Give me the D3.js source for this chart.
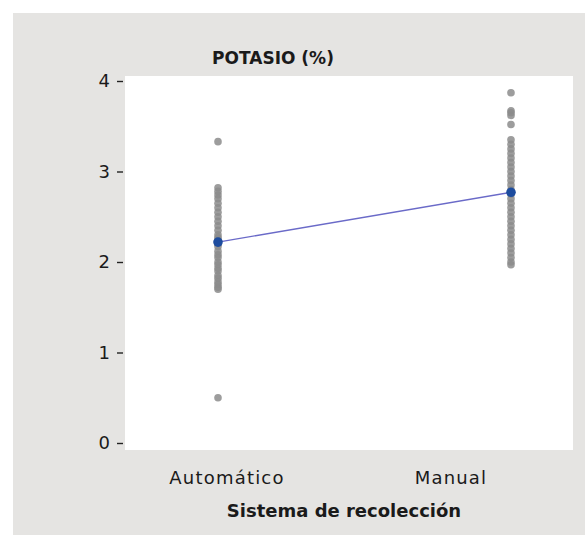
<!DOCTYPE html>
<meta charset="utf-8">
<style>
  body { margin: 0; background: #fff; }
  svg text { font-family: "DejaVu Sans", sans-serif; fill: #1a1a1a; }
  .yAxis .tick line { stroke: #222; stroke-width: 1.4; }
  .yAxis .domain { display: none; }
</style>
<div id="chart"></div>
<script src="https://cdn.jsdelivr.net/npm/d3@7"></script>
<script>
// categorias y valores
var categorias = ["Automático", "Manual"];
var automatico = [3.33, 2.82, 2.78, 2.74, 2.70, 2.65, 2.60, 2.55, 2.50, 2.45, 2.40, 2.35, 2.30, 2.27,
                  2.25, 2.22, 2.20, 2.17, 2.12, 2.08, 2.05, 2.00, 1.97, 1.93, 1.90, 1.85, 1.82, 1.78,
                  1.75, 1.72, 1.70, 0.50];
var manual = [3.87, 3.67, 3.65, 3.62, 3.52, 3.35, 3.30, 3.25, 3.20, 3.15, 3.10, 3.05, 3.00, 2.95,
              2.90, 2.85, 2.80, 2.77, 2.75, 2.70, 2.65, 2.60, 2.55, 2.50, 2.45, 2.40, 2.35, 2.30,
              2.25, 2.20, 2.15, 2.10, 2.05, 2.00, 1.97];
var medias = [2.22, 2.77];
var yTicks = [0, 1, 2, 3, 4];

var W = 585, H = 535;
var svg = d3.select("#chart").append("svg").attr("width", W).attr("height", H);

// fondo gris y panel blanco
svg.append("rect").attr("x", 13).attr("y", 13).attr("width", W - 13).attr("height", H - 13).attr("fill", "#e5e4e2");
var panel = {left: 125, top: 76, right: 573, bottom: 450};
svg.append("rect").attr("x", panel.left).attr("y", panel.top)
  .attr("width", panel.right - panel.left).attr("height", panel.bottom - panel.top).attr("fill", "#fff");

var x = d3.scalePoint().domain(categorias).range([218, 511]);
var y = d3.scaleLinear().domain([0, 4]).range([443, 81]);

// eje y
svg.append("g").attr("class", "yAxis")
  .attr("transform", "translate(123,0)")
  .call(d3.axisLeft(y).tickValues(yTicks).tickSize(6).tickPadding(7).tickFormat(d3.format("d")))
  .selectAll("text").style("font-size", "18px").attr("fill", "#1a1a1a");

// puntos
var series = [automatico, manual];
series.forEach(function(vals, i) {
  svg.append("g").selectAll("circle").data(vals).enter().append("circle")
    .attr("cx", x(categorias[i]))
    .attr("cy", function(d) { return y(d); })
    .attr("r", 3.8)
    .attr("fill", "#8c8c8c")
    .attr("fill-opacity", 0.85);
});

// linea de medias
svg.append("path")
  .datum(medias)
  .attr("d", d3.line().x(function(d, i) { return x(categorias[i]); }).y(function(d) { return y(d); }))
  .attr("stroke", "#6a6ac8").attr("stroke-width", 1.4).attr("fill", "none");

svg.append("g").selectAll("circle").data(medias).enter().append("circle")
  .attr("cx", function(d, i) { return x(categorias[i]); })
  .attr("cy", function(d) { return y(d); })
  .attr("r", 4.8)
  .attr("fill", "#1d4c9e");

// etiquetas x (desplazadas como en el original)
var labelX = [227, 451];
svg.append("g").selectAll("text").data(categorias).enter().append("text")
  .attr("x", function(d, i) { return labelX[i]; })
  .attr("y", 484)
  .attr("text-anchor", "middle")
  .style("font-size", "18px")
  .style("letter-spacing", "1.2px")
  .text(function(d) { return d; });

// titulos
svg.append("text").attr("x", 273).attr("y", 64).attr("text-anchor", "middle")
  .style("font-size", "17px").style("font-weight", "bold").text("POTASIO (%)");
svg.append("text").attr("x", 344).attr("y", 517).attr("text-anchor", "middle")
  .style("font-size", "18px").style("font-weight", "bold").text("Sistema de recolección");
</script>
